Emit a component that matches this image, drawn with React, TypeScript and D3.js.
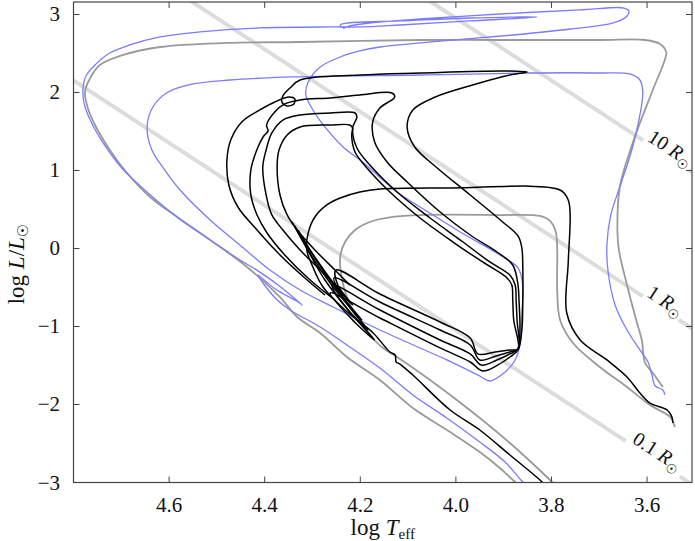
import React from 'react';
import * as d3 from 'd3';

type P = [number, number];

// axis ticks
const xTicks = [4.6, 4.4, 4.2, 4.0, 3.8, 3.6];
const yTicks = [-3, -2, -1, 0, 1, 2, 3];

// constant-radius lines
const radii = [0.1, 1, 10];
const radiusLabels = ['0.1', '1', '10'];
const radiusLabelLogT = [3.588, 3.571, 3.5605];
const logTsun = 3.7617;

// tracks: [log Teff, log L]
const grayOuter: P[] = [[3.567,-1.776],[3.573,-1.724],[3.588,-1.596],[3.604,-1.468],[3.611,-1.173],[3.621,-0.955],[3.642,-0.468],[3.659,-0.019],[3.662,0.212],[3.657,0.788],[3.630,1.353],[3.588,2.032],[3.563,2.417],[3.560,2.519],[3.573,2.622],[3.604,2.673],[3.699,2.673],[3.908,2.673],[4.075,2.673],[4.326,2.647],[4.479,2.635],[4.619,2.583],[4.703,2.468],[4.745,2.353],[4.765,2.186],[4.776,2.006],[4.770,1.801],[4.755,1.583],[4.724,1.263],[4.688,0.968],[4.640,0.660],[4.583,0.404],[4.514,0.109],[4.437,-0.237],[4.368,-0.622],[4.332,-0.878],[4.284,-1.083],[4.228,-1.391],[4.159,-1.686],[4.090,-2.045],[4.012,-2.353],[3.950,-2.609],[3.908,-2.814],[3.876,-2.994],[3.849,-3.122]];

const grayInner: P[] = [[3.542,-2.288],[3.552,-2.160],[3.594,-2.006],[3.642,-1.776],[3.699,-1.519],[3.755,-1.212],[3.782,-0.917],[3.788,-0.532],[3.788,-0.019],[3.791,0.212],[3.803,0.353],[3.824,0.417],[3.908,0.429],[4.075,0.429],[4.132,0.404],[4.180,0.340],[4.211,0.237],[4.232,0.083],[4.242,-0.109],[4.238,-0.404],[4.228,-0.622],[4.211,-0.853],[4.184,-1.083],[4.155,-1.263],[4.123,-1.391],[4.054,-1.686],[3.971,-2.071],[3.887,-2.494],[3.803,-2.968],[3.782,-3.096]];

const blueTrack: P[] = [[3.563,-1.878],[3.567,-1.814],[3.583,-1.763],[3.590,-1.622],[3.598,-1.455],[3.615,-1.301],[3.642,-1.045],[3.667,-0.724],[3.682,-0.276],[3.684,0.045],[3.676,0.429],[3.657,0.788],[3.632,1.263],[3.615,1.712],[3.609,2.006],[3.615,2.160],[3.636,2.237],[3.699,2.250],[3.851,2.250],[4.075,2.224],[4.341,2.199],[4.473,2.160],[4.550,2.109],[4.602,2.006],[4.634,1.814],[4.646,1.558],[4.636,1.263],[4.609,1.006],[4.577,0.750],[4.514,0.365],[4.452,0.045],[4.389,-0.276],[4.326,-0.532],[4.257,-0.750],[4.159,-1.045],[4.019,-1.429],[3.950,-1.635],[3.929,-1.699],[3.897,-1.583],[3.876,-1.429],[3.866,-1.237],[3.862,-0.827],[3.860,-0.468],[3.870,-0.250],[3.908,-0.083],[3.991,0.212],[4.048,0.429],[4.123,0.724],[4.195,1.109],[4.236,1.301],[4.274,1.558],[4.299,1.776],[4.314,1.968],[4.309,2.135],[4.284,2.327],[4.242,2.455],[4.201,2.532],[4.159,2.583],[4.075,2.635],[3.881,2.737],[3.761,2.814],[3.671,2.891],[3.642,2.981],[3.638,3.045],[3.648,3.083],[3.740,3.058],[3.908,3.006],[4.075,2.942],[4.180,2.891],[4.222,2.853],[4.236,2.827],[4.242,2.865],[4.226,2.891],[4.117,2.917],[3.971,2.955],[3.830,2.968],[3.971,2.917],[4.117,2.865],[4.201,2.840],[4.263,2.840],[4.410,2.827],[4.535,2.776],[4.619,2.712],[4.682,2.609],[4.724,2.506],[4.755,2.353],[4.774,2.212],[4.780,2.058],[4.778,1.865],[4.765,1.647],[4.738,1.353],[4.699,1.032],[4.644,0.712],[4.581,0.391],[4.514,0.109],[4.452,-0.147],[4.427,-0.237],[4.372,-0.468],[4.322,-0.724],[4.330,-0.686],[4.378,-0.519],[4.414,-0.340],[4.378,-0.635],[4.347,-0.788],[4.284,-1.006],[4.228,-1.237],[4.159,-1.532],[4.090,-1.878],[4.019,-2.173],[3.950,-2.481],[3.897,-2.737],[3.860,-2.994],[3.835,-3.122]];

const blackBox: P[] = [[3.546,-2.237],[3.548,-2.160],[3.558,-2.071],[3.594,-1.981],[3.615,-1.853],[3.642,-1.647],[3.684,-1.429],[3.740,-1.173],[3.768,-0.827],[3.765,-0.186],[3.761,0.429],[3.765,0.622],[3.782,0.750],[4.012,0.776],[4.159,0.763],[4.201,0.724],[4.242,0.647],[4.270,0.558],[4.295,0.404],[4.309,0.199],[4.312,-0.019],[4.301,-0.212],[4.278,-0.494],[4.232,-0.788],[4.173,-1.083],[4.138,-1.327],[4.127,-1.365],[4.125,-1.455],[4.117,-1.481],[4.090,-1.622],[4.012,-2.071],[3.950,-2.327],[3.887,-2.647],[3.824,-2.968],[3.803,-3.096]];

const blackA: P[] = [[4.343,0.340],[4.316,0.045],[4.274,-0.404],[4.222,-0.814],[4.170,-1.173],[4.212,-0.942],[4.263,-0.570],[4.159,-0.891],[4.033,-1.275],[3.970,-1.455],[3.944,-1.570],[3.912,-1.493],[3.887,-1.391],[3.870,-1.301],[3.862,-1.045],[3.860,-0.660],[3.860,-0.250],[3.862,0.007],[3.870,0.161],[3.902,0.340],[3.970,0.686],[4.039,1.032],[4.086,1.301],[4.102,1.558],[4.090,1.776],[4.043,1.942],[3.965,2.096],[3.887,2.224],[3.851,2.263],[3.897,2.276],[4.075,2.250],[4.201,2.224],[4.326,2.160],[4.347,2.058],[4.362,1.955],[4.364,1.878],[4.353,1.827],[4.339,1.853],[4.337,1.917],[4.349,1.942],[4.379,1.878],[4.410,1.776],[4.448,1.622],[4.471,1.391],[4.479,1.135],[4.475,0.814],[4.456,0.532],[4.416,0.237],[4.368,-0.083],[4.316,-0.378],[4.274,-0.596]];

const blackB: P[] = [[4.337,0.289],[4.305,-0.064],[4.263,-0.442],[4.218,-0.788],[4.184,-1.045],[4.222,-0.814],[4.259,-0.468],[4.159,-0.788],[4.033,-1.173],[3.970,-1.352],[3.947,-1.494],[3.914,-1.429],[3.887,-1.352],[3.870,-1.288],[3.866,-1.045],[3.868,-0.660],[3.870,-0.468],[3.881,-0.212],[3.914,-0.045],[3.970,0.173],[4.033,0.468],[4.102,0.853],[4.144,1.109],[4.170,1.365],[4.174,1.622],[4.159,1.801],[4.128,1.942],[4.134,1.994],[4.201,1.968],[4.263,1.930],[4.326,1.904],[4.358,1.853],[4.379,1.750],[4.396,1.583],[4.393,1.506],[4.402,1.442],[4.414,1.301],[4.429,1.006],[4.429,0.686],[4.416,0.430],[4.395,0.199],[4.358,-0.083],[4.305,-0.404],[4.253,-0.660]];

const blackC: P[] = [[4.330,0.237],[4.295,-0.122],[4.253,-0.494],[4.197,-0.917],[4.232,-0.660],[4.255,-0.378],[4.159,-0.686],[4.033,-1.045],[3.970,-1.237],[3.950,-1.429],[3.916,-1.378],[3.887,-1.327],[3.870,-1.288],[3.872,-0.917],[3.874,-0.660],[3.876,-0.468],[3.887,-0.340],[3.929,-0.173],[3.985,0.083],[4.054,0.391],[4.123,0.724],[4.180,1.071],[4.207,1.288],[4.216,1.545],[4.207,1.686],[4.211,1.737],[4.263,1.737],[4.326,1.712],[4.362,1.647],[4.385,1.481],[4.397,1.263],[4.404,1.045],[4.397,0.686],[4.385,0.430],[4.362,0.237],[4.326,-0.019],[4.284,-0.276],[4.242,-0.532]];

const blackD: P[] = [[4.326,0.173],[4.288,-0.173],[4.253,-0.468],[4.216,-0.724],[4.247,-0.468],[4.251,-0.276],[4.159,-0.583],[4.033,-0.942],[3.970,-1.147],[3.954,-1.352],[3.918,-1.327],[3.887,-1.301],[3.870,-1.288],[3.879,-0.917],[3.881,-0.660],[3.883,-0.468],[3.893,-0.378],[3.944,-0.173],[4.006,0.083],[4.075,0.391],[4.138,0.724],[4.186,1.032],[4.211,1.237],[4.218,1.455],[4.216,1.545],[4.222,1.583],[4.263,1.583],[4.326,1.558],[4.353,1.455],[4.370,1.263],[4.374,1.045],[4.368,0.686],[4.353,0.430],[4.332,0.237],[4.295,-0.019],[4.253,-0.276],[4.222,-0.468]];

const W = 695;
const H = 541;
const left = 73.5, right = 692, top = 2, bottom = 482.5;

const x = d3.scaleLinear().domain([4.8, 3.506]).range([left, right]);
const y = d3.scaleLinear().domain([-3, 3.16]).range([bottom, top]);

const line = d3
  .line<P>()
  .x((d) => x(d[0]))
  .y((d) => y(d[1]))
  .curve(d3.curveCatmullRom.alpha(0.5));

const straight = d3
  .line<P>()
  .x((d) => x(d[0]))
  .y((d) => y(d[1]));

const font = "'Liberation Serif', 'DejaVu Serif', serif";

const radiusL = (R: number, t: number) => 2 * Math.log10(R) + 4 * (t - logTsun);

export default function App() {
  const tracksGray = [grayOuter, grayInner];
  const tracksBlack = [blackBox, blackA, blackB, blackC, blackD];
  return (
    <svg
      width={W}
      height={H}
      style={{ position: 'absolute', left: 0, top: 0, background: '#fff' }}
      fontFamily={font}
    >
      <defs>
        <clipPath id="plot">
          <rect x={left} y={top} width={right - left} height={bottom - top} />
        </clipPath>
      </defs>
      <g clipPath="url(#plot)">
        {radii.map((R, i) => (
          <path
            key={'r' + i}
            d={straight([
              [4.8, radiusL(R, 4.8)],
              [3.506, radiusL(R, 3.506)],
            ]) as string}
            fill="none"
            stroke="#dcdcdc"
            strokeWidth={4}
          />
        ))}
        {tracksGray.map((t, i) => (
          <path key={'g' + i} d={line(t) as string} fill="none" stroke="#9a9a9a" strokeWidth={1.8} />
        ))}
        <path d={line(blueTrack) as string} fill="none" stroke="#7b7bff" strokeWidth={1.3} />
        {tracksBlack.map((t, i) => (
          <path key={'k' + i} d={line(t) as string} fill="none" stroke="#000" strokeWidth={1.5} />
        ))}
      </g>
      {radii.map((R, i) => {
        const t = radiusLabelLogT[i];
        const px = x(t);
        const py = y(radiusL(R, t));
        const dx = x(3.506) - x(4.8);
        const dy = y(radiusL(R, 3.506)) - y(radiusL(R, 4.8));
        const a = Math.atan2(dy, dx);
        const cx = px + 9 * Math.sin(a);
        const cy = py - 9 * Math.cos(a);
        const w = 11 * radiusLabels[i].length + 32;
        return (
          <g key={'rl' + i} transform={`translate(${cx},${cy}) rotate(${(a * 180) / Math.PI})`}>
            <rect x={-w / 2} y={-11} width={w} height={24} fill="#fff" />
            <text textAnchor="middle" dy="0.35em" fontSize={20} fill="#111">
              {radiusLabels[i] + ' '}
              <tspan fontStyle="italic">R</tspan>
              <tspan fontSize={13} dy="5" fontFamily="'DejaVu Sans', sans-serif">☉</tspan>
            </text>
          </g>
        );
      })}
      <rect x={left} y={top} width={right - left} height={bottom - top} fill="none" stroke="#444" strokeWidth={1.2} />
      {xTicks.map((t) => (
        <g key={'xt' + t}>
          <line x1={x(t)} x2={x(t)} y1={bottom} y2={bottom - 6} stroke="#444" strokeWidth={1} />
          <line x1={x(t)} x2={x(t)} y1={top} y2={top + 6} stroke="#444" strokeWidth={1} />
          <text x={x(t)} y={512} textAnchor="middle" fontSize={21} fill="#111">
            {t.toFixed(1)}
          </text>
        </g>
      ))}
      {yTicks.map((t) => (
        <g key={'yt' + t}>
          <line x1={left} x2={left + 6} y1={y(t)} y2={y(t)} stroke="#444" strokeWidth={1} />
          <line x1={right} x2={right - 6} y1={y(t)} y2={y(t)} stroke="#444" strokeWidth={1} />
          <text x={60} y={y(t) + 7} textAnchor="end" fontSize={21} fill="#111">
            {t < 0 ? '\u2212' + Math.abs(t) : String(t)}
          </text>
        </g>
      ))}
      <text x={(left + right) / 2} y={535} textAnchor="middle" fontSize={23} fill="#111">
        log <tspan fontStyle="italic">T</tspan>
        <tspan fontSize={15} dy="4">eff</tspan>
      </text>
      <text
        transform={`translate(24,264) rotate(-90)`}
        textAnchor="middle"
        fontSize={23}
        fill="#111"
      >
        log <tspan fontStyle="italic">L</tspan>/<tspan fontStyle="italic">L</tspan>
        <tspan fontSize={15} dy="4" fontFamily="'DejaVu Sans', sans-serif">☉</tspan>
      </text>
    </svg>
  );
}
